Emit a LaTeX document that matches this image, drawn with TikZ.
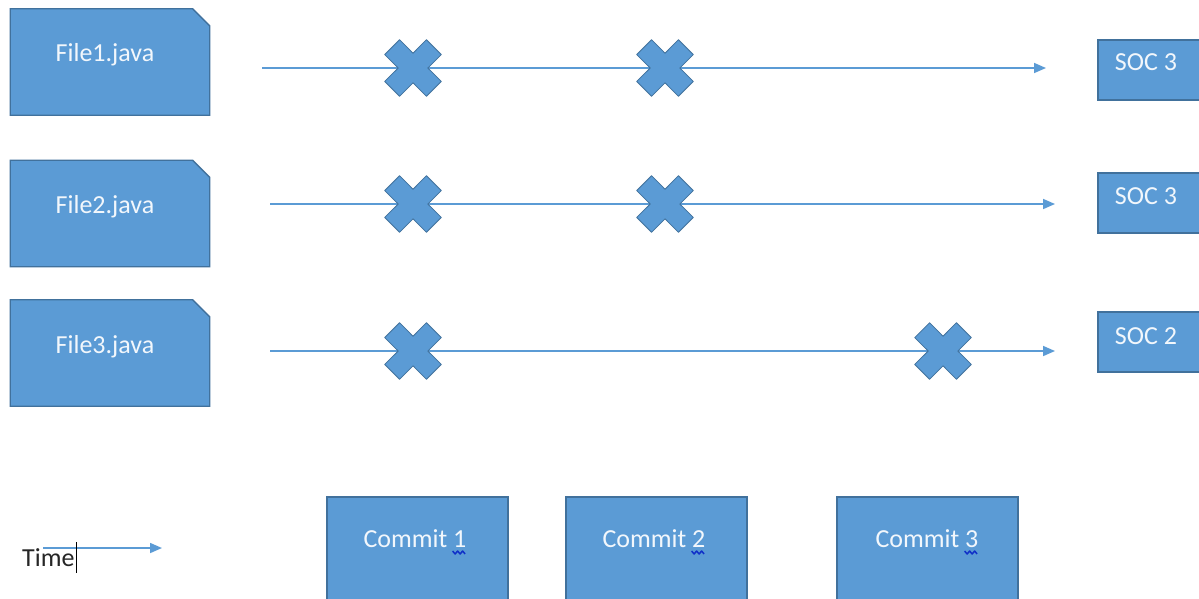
\documentclass[tikz,border=0pt]{standalone}
\usepackage{fontspec}
\setmainfont{Carlito}
\usetikzlibrary{arrows.meta,calc}
\definecolor{boxfill}{HTML}{5B9BD5}
\definecolor{boxedge}{HTML}{41719C}
\definecolor{flowc}{HTML}{5B9BD5}
\definecolor{spell}{HTML}{1030C8}
\definecolor{lbltext}{HTML}{F2F7FC}
\tikzset{
  shapebox/.style={draw=boxedge, fill=boxfill, line width=1.3pt},
  fileframe/.style={draw=none, inner sep=0, minimum width=199, minimum height=106},
  socbox/.style={shapebox, inner sep=0, minimum width=104, minimum height=60},
  commitbox/.style={shapebox, inner sep=0, minimum width=181, minimum height=108},
  lbl/.style={text=lbltext, inner sep=0, font=\fontsize{26}{30}\selectfont},
  flow/.style={draw=flowc, line width=1.6pt, -{Triangle[length=12pt,width=10pt]}},
  xmark/.pic={
    \path[shapebox, line width=0.8pt, line join=round] (14.8,0) -- (28.3,13.4) -- (13.4,28.3) -- (0,14.8)
      -- (-13.4,28.3) -- (-28.3,13.4) -- (-14.8,0) -- (-28.3,-13.4) -- (-13.4,-28.3)
      -- (0,-14.8) -- (13.4,-28.3) -- (28.3,-13.4) -- cycle;
  },
  squiggle/.style={draw=spell, line width=1.5pt, line join=round}
}
\begin{document}
\begin{tikzpicture}[x=1pt,y=-1pt]
\useasboundingbox (0,0) rectangle (1199,598);
\fill[white] (0,0) rectangle (1199,598);

% file boxes
\foreach \n/\yc in {1/62,2/213.5,3/353}{
  \node[fileframe] (f\n) at (110,\yc) {};
  \draw[shapebox] (f\n.south west) -- (f\n.north west) -- ([xshift=-17pt]f\n.north east)
     -- ([yshift=-17pt]f\n.north east) -- (f\n.south east) -- cycle;
}
\node[lbl] (t1) at (105,55) {File1.java};
\node[lbl] (t2) at (105,207) {File2.java};
\node[lbl] (t3) at (105,347) {File3.java};

% timelines
\coordinate (s1) at (262,68);   \coordinate (e1) at (1046,68);
\coordinate (s2) at (270,204);  \coordinate (e2) at (1055,204);
\coordinate (s3) at (270,351);  \coordinate (e3) at (1055,351);
\draw[flow] (s1) -- (e1);
\draw[flow] (s2) -- (e2);
\draw[flow] (s3) -- (e3);

% cross marks
\pic at (413,68) {xmark};
\pic at (665,68) {xmark};
\pic at (413,204) {xmark};
\pic at (665,204) {xmark};
\pic at (413,351) {xmark};
\pic at (943,351) {xmark};

% SOC boxes
\node[socbox] (soc1) at (1150,70) {};
\node[socbox] (soc2) at (1150,203) {};
\node[socbox] (soc3) at (1150,342) {};
\node[lbl] (st1) at (1146,62) {SOC 3};
\node[lbl] (st2) at (1146,196) {SOC 3};
\node[lbl] (st3) at (1146,336) {SOC 2};

% commit boxes
\node[commitbox] (c1) at (417.5,551) {};
\node[commitbox] (c2) at (656.5,551) {};
\node[commitbox] (c3) at (927.5,551) {};
\node[lbl, anchor=base] (ct1) at (415,547) {Commit 1};
\node[lbl, anchor=base] (ct2) at (654,547) {Commit 2};
\node[lbl, anchor=base] (ct3) at (927,547) {Commit 3};
\foreach \k in {1,2,3}{
  \draw[squiggle] ([xshift=-14pt,yshift=-4pt]ct\k.base east) -- ++(2.5,3) -- ++(2.5,-3) -- ++(2.5,3) -- ++(2.5,-3) -- ++(2.5,3);
}

% time legend
\node[inner sep=0, anchor=base west, text=black!85, font=\fontsize{26}{30}\selectfont] (time) at (22,566) {Time};
\coordinate (ts) at (43,548);
\coordinate (te) at (162,548);
\draw[flow] (ts) -- (te);
\draw[black, line width=1.3pt] ([xshift=2pt]time.east |- 0,542) -- ([xshift=2pt]time.east |- 0,573);
\end{tikzpicture}
\end{document}
